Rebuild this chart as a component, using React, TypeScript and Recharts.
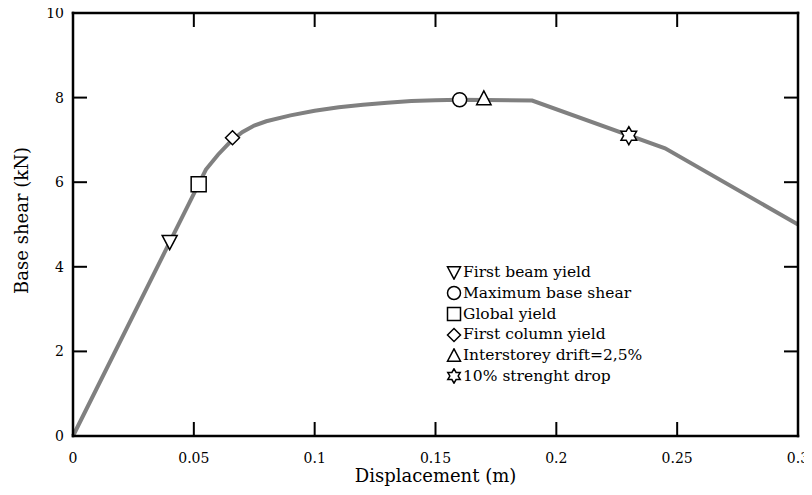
import React from "react";
import { ComposedChart, Line, Scatter, XAxis, YAxis, Legend } from "recharts";

// pushover curve (displacement in m, base shear in kN)
const displacement = [0, 0.055, 0.06, 0.065, 0.07, 0.075, 0.08, 0.09, 0.1, 0.11, 0.12, 0.13, 0.14, 0.15, 0.16, 0.19, 0.245, 0.3];
const baseShear = [0, 6.3, 6.65, 6.95, 7.18, 7.34, 7.44, 7.58, 7.69, 7.77, 7.83, 7.88, 7.92, 7.94, 7.95, 7.93, 6.8, 5.0];

// performance points
const markerNames = [
  "First beam yield",
  "Maximum base shear",
  "Global yield",
  "First column yield",
  "Interstorey drift=2,5%",
  "10% strenght drop",
];
const markerShapes = ["triangleDown", "circle", "square", "diamond", "triangleUp", "star"];
const markerX = [0.04, 0.16, 0.052, 0.066, 0.17, 0.23];
const markerY = [4.6, 7.95, 5.95, 7.05, 7.97, 7.1];

const xTicks = [0, 0.05, 0.1, 0.15, 0.2, 0.25, 0.3];
const yTicks = [0, 2, 4, 6, 8, 10];

const curve = displacement.map((x, i) => ({ x, y: baseShear[i] }));

const FONT = "'DejaVu Serif', 'Liberation Serif', serif";
const W = 804;
const H = 479;
const LEFT = 65;
const TOP = 5;
const RIGHT = 790;
const BOTTOM = 428;
const TICK = 14;

function markerPath(kind: string, cx: number, cy: number, r: number) {
  switch (kind) {
    case "triangleDown":
      return `M${cx - r},${cy - r * 0.8} L${cx + r},${cy - r * 0.8} L${cx},${cy + r * 1.1} Z`;
    case "triangleUp":
      return `M${cx - r},${cy + r * 0.8} L${cx + r},${cy + r * 0.8} L${cx},${cy - r * 1.1} Z`;
    case "square":
      return `M${cx - r},${cy - r} h${r * 2} v${r * 2} h${-r * 2} Z`;
    case "diamond":
      return `M${cx},${cy - r} L${cx + r},${cy} L${cx},${cy + r} L${cx - r},${cy} Z`;
    case "star": {
      const pts: string[] = [];
      for (let i = 0; i < 12; i++) {
        const a = (Math.PI / 6) * i - Math.PI / 2;
        const rr = i % 2 === 0 ? r : r * 0.58;
        pts.push(`${cx + rr * Math.cos(a)},${cy + rr * Math.sin(a)}`);
      }
      return "M" + pts.join(" L") + " Z";
    }
    default:
      return "";
  }
}

const markerSize: Record<string, number> = {
  triangleDown: 7.5,
  circle: 7,
  square: 7.5,
  diamond: 7,
  triangleUp: 7.2,
  star: 9,
};

function Marker({ kind, cx, cy, r }: { kind: string; cx: number; cy: number; r: number }) {
  if (kind === "circle") {
    return <circle cx={cx} cy={cy} r={r} fill="#fff" stroke="#000" strokeWidth={1.5} />;
  }
  return <path d={markerPath(kind, cx, cy, r)} fill="#fff" stroke="#000" strokeWidth={1.5} strokeLinejoin="miter" />;
}

const BottomTick = (props: any) => {
  const { x, payload } = props;
  return (
    <g>
      <line x1={x} y1={BOTTOM} x2={x} y2={BOTTOM - TICK} stroke="#000" strokeWidth={2} />
      <text x={x} y={BOTTOM + 27} textAnchor="middle" fontFamily={FONT} fontSize={14} fill="#000">
        {String(payload.value)}
      </text>
    </g>
  );
};

const TopTick = (props: any) => {
  const { x } = props;
  return <line x1={x} y1={TOP} x2={x} y2={TOP + TICK} stroke="#000" strokeWidth={2} />;
};

const LeftTick = (props: any) => {
  const { y, payload } = props;
  return (
    <g>
      <line x1={LEFT} y1={y} x2={LEFT + TICK} y2={y} stroke="#000" strokeWidth={2} />
      <text x={LEFT - 9} y={y + 5} textAnchor="end" fontFamily={FONT} fontSize={14} fill="#000">
        {String(payload.value)}
      </text>
    </g>
  );
};

const RightTick = (props: any) => {
  const { y } = props;
  return <line x1={RIGHT} y1={y} x2={RIGHT - TICK} y2={y} stroke="#000" strokeWidth={2} />;
};

const LegendBox = () => (
  <div style={{ fontFamily: FONT, fontSize: 15.5, color: "#000", lineHeight: "20.8px" }}>
    {markerNames.map((name, i) => (
      <div key={name} style={{ display: "flex", alignItems: "center", height: 20.8, whiteSpace: "nowrap" }}>
        <svg width={16} height={16} style={{ marginRight: 1 }}>
          <Marker kind={markerShapes[i]} cx={8} cy={8} r={markerShapes[i] === "star" ? 7.2 : 6.5} />
        </svg>
        <span>{name}</span>
      </div>
    ))}
  </div>
);

const axisLine = { stroke: "#000", strokeWidth: 2.5, strokeLinecap: "square" as const };

export default function App() {
  return (
    <div>
      <style>{`.recharts-surface { overflow: visible; }`}</style>
      <ComposedChart
        width={W}
        height={H}
        margin={{ top: TOP - 1, right: W - RIGHT - 1, left: 0, bottom: 0 }}
      >
        <XAxis
          xAxisId="b"
          dataKey="x"
          type="number"
          domain={[0, 0.3]}
          ticks={xTicks}
          interval={0}
          height={H - BOTTOM}
          tickSize={0}
          tickMargin={0}
          axisLine={axisLine}
          tickLine={false}
          tick={<BottomTick />}
          label={{ value: "Displacement (m)", position: "insideBottom", offset: 5, fontFamily: FONT, fontSize: 18, fill: "#000" }}
        />
        <XAxis
          xAxisId="t"
          dataKey="x"
          orientation="top"
          type="number"
          domain={[0, 0.3]}
          ticks={xTicks}
          interval={0}
          height={1}
          tickSize={0}
          axisLine={axisLine}
          tickLine={false}
          tick={<TopTick />}
        />
        <YAxis
          yAxisId="l"
          type="number"
          domain={[0, 10]}
          ticks={yTicks}
          interval={0}
          width={LEFT}
          tickSize={0}
          tickMargin={0}
          axisLine={axisLine}
          tickLine={false}
          tick={<LeftTick />}
          label={{ value: "Base shear (kN)", angle: -90, position: "insideLeft", offset: 14, dy: -4, fontFamily: FONT, fontSize: 18, fill: "#000", style: { textAnchor: "middle" } }}
        />
        <YAxis
          yAxisId="r"
          orientation="right"
          type="number"
          domain={[0, 10]}
          ticks={yTicks}
          interval={0}
          width={1}
          tickSize={0}
          axisLine={axisLine}
          tickLine={false}
          tick={<RightTick />}
        />
        {/* invisible copy so the top and right frame axes get drawn */}
        <Line
          xAxisId="t"
          yAxisId="r"
          data={curve}
          dataKey="y"
          stroke="none"
          dot={false}
          legendType="none"
          isAnimationActive={false}
        />
        <Line
          xAxisId="b"
          yAxisId="l"
          data={curve}
          dataKey="y"
          type="linear"
          stroke="#808080"
          strokeWidth={4}
          dot={false}
          isAnimationActive={false}
        />
        {markerNames.map((name, i) => (
          <Scatter
            key={name}
            xAxisId="b"
            yAxisId="l"
            name={name}
            data={[{ x: markerX[i], y: markerY[i] }]}
            dataKey="y"
            isAnimationActive={false}
            shape={(p: any) => <Marker kind={markerShapes[i]} cx={p.cx} cy={p.cy} r={markerSize[markerShapes[i]]} />}
          />
        ))}
        <Legend
          layout="vertical"
          align="center"
          verticalAlign="middle"
          content={<LegendBox />}
          wrapperStyle={{ position: "absolute", left: 438, top: 254, width: 220 }}
        />
      </ComposedChart>
    </div>
  );
}
